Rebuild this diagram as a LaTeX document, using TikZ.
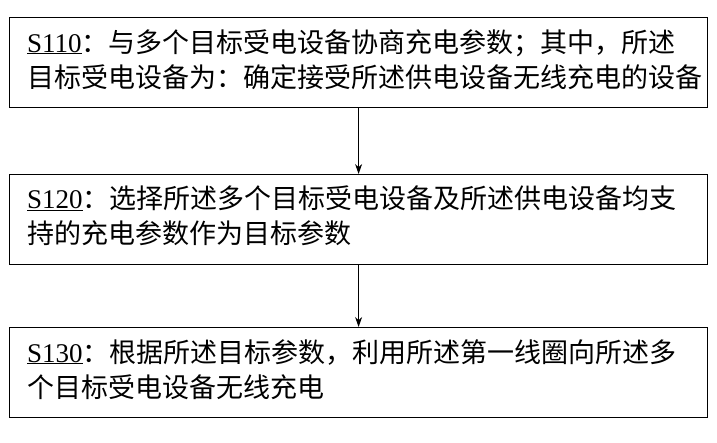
\documentclass[tikz,border=0pt]{standalone}
\usepackage{fontspec}
\setmainfont{Liberation Serif}
\newfontfamily\cjk{Noto Sans CJK SC}
\usetikzlibrary{arrows.meta}
\begin{document}
\begin{tikzpicture}[x=1pt,y=-1pt,
 box/.style={draw,line width=1.2pt,minimum width=698pt,minimum height=90pt,anchor=north west},
 txt/.style={anchor=north west,align=left,inner sep=0pt,font=\fontsize{27}{35}\selectfont},
 arr/.style={-{Stealth[length=10pt,width=7pt]},line width=1pt}]
\useasboundingbox (0,0) rectangle (717,442);
\node[box] (b1) at (9,17) {};
\node[box] (b2) at (9,174) {};
\node[box] (b3) at (9,327) {};
\node[txt] (t1) at (27,29) {\underline{S110}{\cjk ：与多个目标受电设备协商充电参数；其中，所述}\\{\cjk 目标受电设备为：确定接受所述供电设备无线充电的设备}};
\node[txt] (t2) at (27,186) {\underline{S120}{\cjk ：选择所述多个目标受电设备及所述供电设备均支}\\{\cjk 持的充电参数作为目标参数}};
\node[txt] (t3) at (27,339) {\underline{S130}{\cjk ：根据所述目标参数，利用所述第一线圈向所述多}\\{\cjk 个目标受电设备无线充电}};
\draw[arr] (b1.south) -- (b2.north);
\draw[arr] (b2.south) -- (b3.north);
\end{tikzpicture}
\end{document}
